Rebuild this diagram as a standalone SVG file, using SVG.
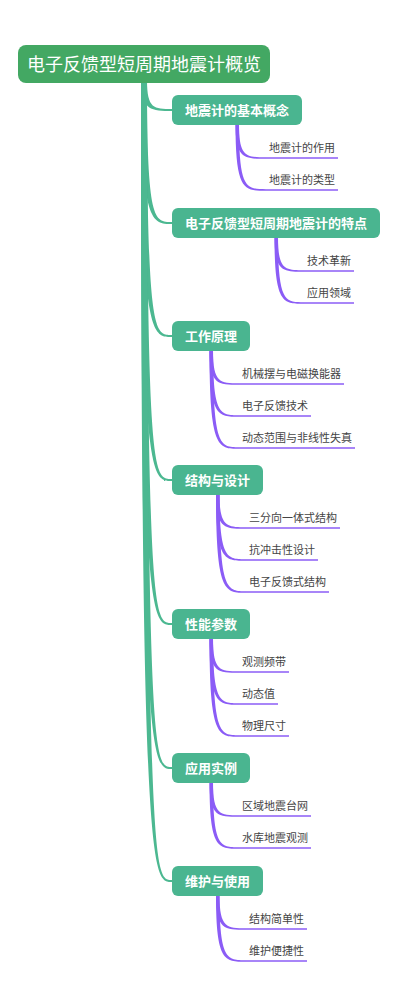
<svg xmlns="http://www.w3.org/2000/svg" width="400" height="1008" viewBox="0 0 400 1008">
<style>
.root{fill:#43A863}
.l1{fill:#4AB590}
.t0{font-family:"Noto Sans CJK SC","Noto Sans",sans-serif;font-size:18px;fill:#fff}
.t1{font-family:"Noto Sans CJK SC","Noto Sans",sans-serif;font-size:13px;font-weight:bold;fill:#fff}
.t2{font-family:"Noto Sans CJK SC","Noto Sans",sans-serif;font-size:11px;fill:#444}
.tr{fill:#4CB891}
.pb{fill:#8B5CF6}
.ul{stroke:#8B5CF6;stroke-width:1.6;fill:none}
</style>
<rect width="400" height="1008" fill="#fff"/>
<g id="connectors">
  <!-- trunk branches -->
  <path class="tr" d="M141,80 C141,111 152,111 172,111 L172,109 C154,109 147,109 147,80 Z"/>
  <path class="tr" d="M141,80 C141,224 152,224 172,224 L172,222 C154,222 147,222 147,80 Z"/>
  <path class="tr" d="M141,80 C141,337 152,337 172,337 L172,335 C154,335 147,335 147,80 Z"/>
  <path class="tr" d="M141,80 C141,481 152,481 172,481 L172,479 C154,479 147,479 147,80 Z"/>
  <path class="tr" d="M141,80 C141,625 152,625 172,625 L172,623 C154,623 147,623 147,80 Z"/>
  <path class="tr" d="M141,80 C141,769 152,769 172,769 L172,767 C154,767 147,767 147,80 Z"/>
  <path class="tr" d="M141,80 C141,882 152,882 172,882 L172,880 C154,880 147,880 147,80 Z"/>
  <!-- group 1 -->
  <path class="pb" d="M235.5,124 C235.5,158.8 244,158.8 266,158.8 L266,157.2 C246,157.2 239,157.2 239,124 Z"/>
  <path class="pb" d="M235.5,124 C235.5,190.8 244,190.8 266,190.8 L266,189.2 C246,189.2 239,189.2 239,124 Z"/>
  <line class="ul" x1="266" y1="158" x2="338" y2="158"/>
  <line class="ul" x1="266" y1="190" x2="338" y2="190"/>
  <!-- group 2 -->
  <path class="pb" d="M274.5,237 C274.5,271.8 283,271.8 304,271.8 L304,270.2 C285,270.2 278,270.2 278,237 Z"/>
  <path class="pb" d="M274.5,237 C274.5,303.8 283,303.8 304,303.8 L304,302.2 C285,302.2 278,302.2 278,237 Z"/>
  <line class="ul" x1="304" y1="271" x2="354" y2="271"/>
  <line class="ul" x1="304" y1="303" x2="354" y2="303"/>
  <!-- group 3 -->
  <path class="pb" d="M209.5,350 C209.5,384.8 218,384.8 239,384.8 L239,383.2 C220,383.2 213,383.2 213,350 Z"/>
  <path class="pb" d="M209.5,350 C209.5,416.8 218,416.8 239,416.8 L239,415.2 C220,415.2 213,415.2 213,350 Z"/>
  <path class="pb" d="M209.5,350 C209.5,448.8 218,448.8 239,448.8 L239,447.2 C220,447.2 213,447.2 213,350 Z"/>
  <line class="ul" x1="239" y1="384" x2="344" y2="384"/>
  <line class="ul" x1="239" y1="416" x2="311" y2="416"/>
  <line class="ul" x1="239" y1="448" x2="355" y2="448"/>
  <!-- group 4 -->
  <path class="pb" d="M216,494 C216,528.8 224.5,528.8 246,528.8 L246,527.2 C227,527.2 219.5,527.2 219.5,494 Z"/>
  <path class="pb" d="M216,494 C216,560.8 224.5,560.8 246,560.8 L246,559.2 C227,559.2 219.5,559.2 219.5,494 Z"/>
  <path class="pb" d="M216,494 C216,592.8 224.5,592.8 246,592.8 L246,591.2 C227,591.2 219.5,591.2 219.5,494 Z"/>
  <line class="ul" x1="246" y1="528" x2="340" y2="528"/>
  <line class="ul" x1="246" y1="560" x2="318" y2="560"/>
  <line class="ul" x1="246" y1="592" x2="329" y2="592"/>
  <!-- group 5 -->
  <path class="pb" d="M209.5,638 C209.5,672.8 218,672.8 239,672.8 L239,671.2 C220,671.2 213,671.2 213,638 Z"/>
  <path class="pb" d="M209.5,638 C209.5,704.8 218,704.8 239,704.8 L239,703.2 C220,703.2 213,703.2 213,638 Z"/>
  <path class="pb" d="M209.5,638 C209.5,736.8 218,736.8 239,736.8 L239,735.2 C220,735.2 213,735.2 213,638 Z"/>
  <line class="ul" x1="239" y1="672" x2="289" y2="672"/>
  <line class="ul" x1="239" y1="704" x2="278" y2="704"/>
  <line class="ul" x1="239" y1="736" x2="289" y2="736"/>
  <!-- group 6 -->
  <path class="pb" d="M209.5,782 C209.5,816.8 218,816.8 239,816.8 L239,815.2 C220,815.2 213,815.2 213,782 Z"/>
  <path class="pb" d="M209.5,782 C209.5,848.8 218,848.8 239,848.8 L239,847.2 C220,847.2 213,847.2 213,782 Z"/>
  <line class="ul" x1="239" y1="816" x2="311" y2="816"/>
  <line class="ul" x1="239" y1="848" x2="311" y2="848"/>
  <!-- group 7 -->
  <path class="pb" d="M216,895 C216,929.8 224.5,929.8 246,929.8 L246,928.2 C227,928.2 219.5,928.2 219.5,895 Z"/>
  <path class="pb" d="M216,895 C216,961.8 224.5,961.8 246,961.8 L246,960.2 C227,960.2 219.5,960.2 219.5,895 Z"/>
  <line class="ul" x1="246" y1="929" x2="307" y2="929"/>
  <line class="ul" x1="246" y1="961" x2="307" y2="961"/>
</g>
<g id="root">
  <rect class="root" x="18" y="45" width="252" height="38" rx="8"/>
  <text class="t0" x="144" y="70.5" text-anchor="middle">电子反馈型短周期地震计概览</text>
</g>
<g id="n1">
  <rect class="l1" x="172" y="95" width="130" height="30" rx="6"/>
  <text class="t1" x="237" y="114.5" text-anchor="middle">地震计的基本概念</text>
</g>
<g id="n1a"><text class="t2" x="269" y="152">地震计的作用</text></g>
<g id="n1b"><text class="t2" x="269" y="184">地震计的类型</text></g>
<g id="n2">
  <rect class="l1" x="172" y="208" width="208" height="30" rx="6"/>
  <text class="t1" x="276" y="227.5" text-anchor="middle">电子反馈型短周期地震计的特点</text>
</g>
<g id="n2a"><text class="t2" x="307" y="265">技术革新</text></g>
<g id="n2b"><text class="t2" x="307" y="297">应用领域</text></g>
<g id="n3">
  <rect class="l1" x="172" y="321" width="78" height="30" rx="6"/>
  <text class="t1" x="211" y="340.5" text-anchor="middle">工作原理</text>
</g>
<g id="n3a"><text class="t2" x="242" y="378">机械摆与电磁换能器</text></g>
<g id="n3b"><text class="t2" x="242" y="410">电子反馈技术</text></g>
<g id="n3c"><text class="t2" x="242" y="442">动态范围与非线性失真</text></g>
<g id="n4">
  <rect class="l1" x="172" y="465" width="91" height="30" rx="6"/>
  <text class="t1" x="217.5" y="484.5" text-anchor="middle">结构与设计</text>
</g>
<g id="n4a"><text class="t2" x="249" y="522">三分向一体式结构</text></g>
<g id="n4b"><text class="t2" x="249" y="554">抗冲击性设计</text></g>
<g id="n4c"><text class="t2" x="249" y="586">电子反馈式结构</text></g>
<g id="n5">
  <rect class="l1" x="172" y="609" width="78" height="30" rx="6"/>
  <text class="t1" x="211" y="628.5" text-anchor="middle">性能参数</text>
</g>
<g id="n5a"><text class="t2" x="242" y="666">观测频带</text></g>
<g id="n5b"><text class="t2" x="242" y="698">动态值</text></g>
<g id="n5c"><text class="t2" x="242" y="730">物理尺寸</text></g>
<g id="n6">
  <rect class="l1" x="172" y="753" width="78" height="30" rx="6"/>
  <text class="t1" x="211" y="772.5" text-anchor="middle">应用实例</text>
</g>
<g id="n6a"><text class="t2" x="242" y="810">区域地震台网</text></g>
<g id="n6b"><text class="t2" x="242" y="842">水库地震观测</text></g>
<g id="n7">
  <rect class="l1" x="172" y="866" width="91" height="30" rx="6"/>
  <text class="t1" x="217.5" y="885.5" text-anchor="middle">维护与使用</text>
</g>
<g id="n7a"><text class="t2" x="249" y="923">结构简单性</text></g>
<g id="n7b"><text class="t2" x="249" y="955">维护便捷性</text></g>
</svg>
